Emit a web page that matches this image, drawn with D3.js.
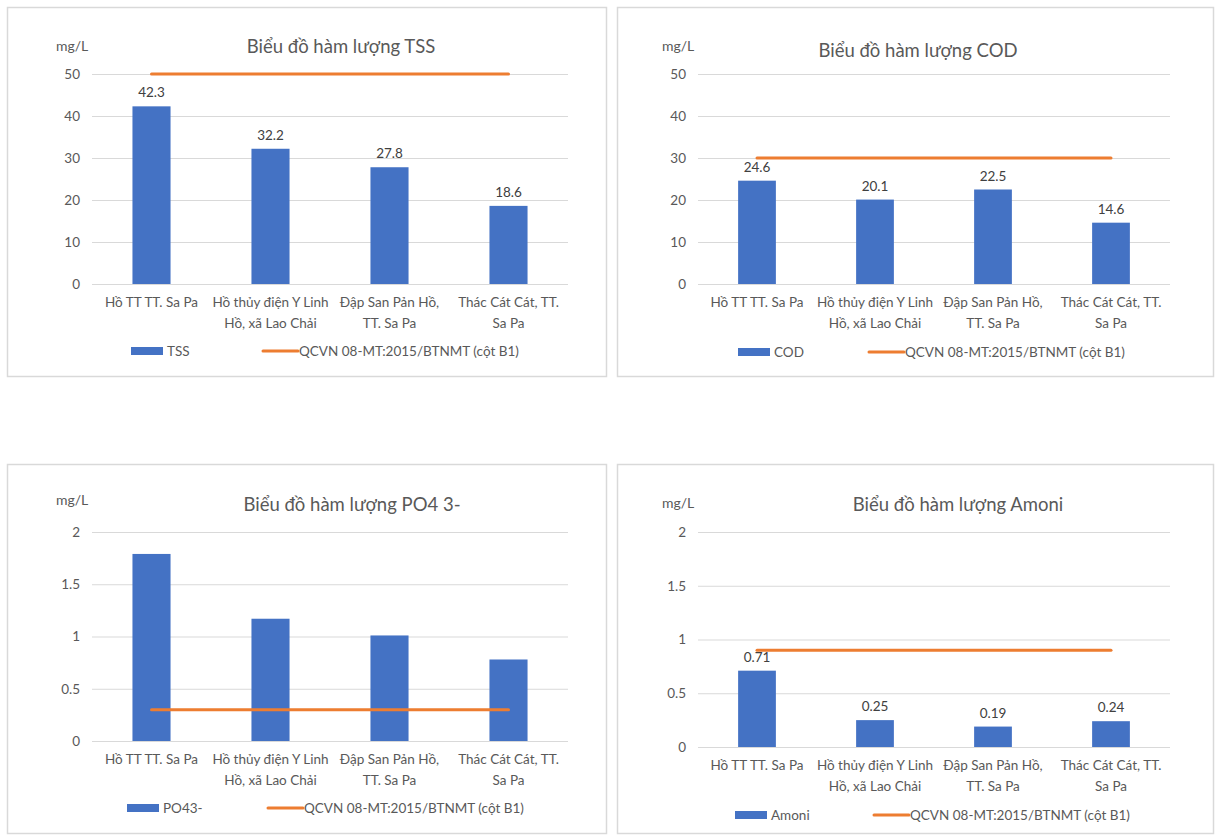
<!DOCTYPE html>
<html>
<head>
<meta charset="utf-8">
<script src="https://cdn.jsdelivr.net/npm/d3@7"></script>
<style>
  body { margin: 0; background: #fff; }
  text { font-family: Lato, "Open Sans", sans-serif; }
</style>
</head>
<body>
<div id="chart-area"></div>
<script>
// Data
var categories = ["Hồ TT TT. Sa Pa", "Hồ thủy điện Y Linh Hồ, xã Lao Chải", "Đập San Pản Hồ, TT. Sa Pa", "Thác Cát Cát, TT. Sa Pa"];
var categoryLines = [["Hồ TT TT. Sa Pa"], ["Hồ thủy điện Y Linh", "Hồ, xã Lao Chải"], ["Đập San Pản Hồ,", "TT. Sa Pa"], ["Thác Cát Cát, TT.", "Sa Pa"]];

var tssValues = [42.3, 32.2, 27.8, 18.6];
var codValues = [24.6, 20.1, 22.5, 14.6];
var po4Values = [1.79, 1.17, 1.01, 0.78];
var amoniValues = [0.71, 0.25, 0.19, 0.24];

var tssLimit = [50, 50, 50, 50];
var codLimit = [30, 30, 30, 30];
var po4Limit = [0.3, 0.3, 0.3, 0.3];
var amoniLimit = [0.9, 0.9, 0.9, 0.9];

var ticks50 = [0, 10, 20, 30, 40, 50];
var ticks2 = [0, 0.5, 1, 1.5, 2];

var titles = ["Biểu đồ hàm lượng TSS", "Biểu đồ hàm lượng COD", "Biểu đồ hàm lượng PO4 3-", "Biểu đồ hàm lượng Amoni"];
var seriesNames = ["TSS", "COD", "PO43-", "Amoni"];
var limitName = "QCVN 08-MT:2015/BTNMT (cột B1)";
var unit = "mg/L";

// Layout (page coordinates)
var panels = [
  {values: tssValues, limit: tssLimit, ticks: ticks50, labels: true,
   box: [7, 7, 606, 376], plot: [92, 568, 74, 284], titleX: 341, titleY: 47, unitY: 46, legY: 351, legRect: 131, legLine: 263},
  {values: codValues, limit: codLimit, ticks: ticks50, labels: true,
   box: [617, 7, 1213, 376], plot: [698, 1170, 74, 284], titleX: 918, titleY: 51, unitY: 46, legY: 352, legRect: 738, legLine: 869},
  {values: po4Values, limit: po4Limit, ticks: ticks2, labels: false,
   box: [7, 464, 606, 833], plot: [92, 568, 532, 741], titleX: 352, titleY: 505, unitY: 500, legY: 808, legRect: 127, legLine: 268},
  {values: amoniValues, limit: amoniLimit, ticks: ticks2, labels: true,
   box: [617, 464, 1213, 833], plot: [698, 1170, 532, 747], titleX: 958, titleY: 505, unitY: 503, legY: 815, legRect: 735, legLine: 874}
];

var blue = "#4472C4", orange = "#ED7D31", grey = "#595959";
var fs = "13.5px";

var svg = d3.select("#chart-area").append("svg").attr("width", 1215).attr("height", 837);
svg.append("rect").attr("width", 1215).attr("height", 837).attr("fill", "#fff");

panels.forEach(function(p, i) {
  var g = svg.append("g");

  g.append("rect").attr("x", p.box[0] + 0.5).attr("y", p.box[1] + 0.5)
    .attr("width", p.box[2] - p.box[0]).attr("height", p.box[3] - p.box[1])
    .attr("fill", "#fff").attr("stroke", "#d9d9d9").attr("stroke-width", 1.5);

  // Scales
  var x = d3.scaleBand().domain(categories).range([p.plot[0], p.plot[1]]).padding(0);
  var y = d3.scaleLinear().domain([0, d3.max(p.ticks)]).range([p.plot[3], p.plot[2]]);
  var barW = x.bandwidth() * 0.32;

  // Grid + y axis
  var yAxis = d3.axisLeft(y).tickValues(p.ticks).tickSize(-(p.plot[1] - p.plot[0])).tickPadding(12).tickFormat(d3.format("~g"));
  var yg = g.append("g").attr("transform", "translate(" + p.plot[0] + ",0)").call(yAxis);
  yg.select(".domain").remove();
  yg.selectAll("line").attr("stroke", "#d9d9d9").attr("stroke-width", 1);
  yg.selectAll("text").attr("fill", grey).attr("font-size", fs).style("font-family", "Lato");

  // Bars
  g.selectAll(".bar").data(p.values).enter().append("rect")
    .attr("x", function(d, j) { return x(categories[j]) + (x.bandwidth() - barW) / 2; })
    .attr("y", function(d) { return y(d); })
    .attr("width", barW)
    .attr("height", function(d) { return y(0) - y(d); })
    .attr("fill", blue);

  if (p.labels) {
    g.selectAll(".lbl").data(p.values).enter().append("text")
      .attr("x", function(d, j) { return x(categories[j]) + x.bandwidth() / 2; })
      .attr("y", function(d) { return y(d) - 9; })
      .attr("text-anchor", "middle").attr("font-size", fs).attr("fill", "#404040")
      .text(function(d) { return d; });
  }

  // Limit line
  var line = d3.line()
    .x(function(d, j) { return x(categories[j]) + x.bandwidth() / 2; })
    .y(function(d) { return y(d); });
  g.append("path").datum(p.limit).attr("d", line)
    .attr("fill", "none").attr("stroke", orange).attr("stroke-width", 3).attr("stroke-linecap", "round");

  // Category labels
  categories.forEach(function(c, j) {
    var t = g.append("text").attr("text-anchor", "middle").attr("font-size", fs).attr("fill", grey);
    categoryLines[j].forEach(function(s, k) {
      t.append("tspan").attr("x", x(c) + x.bandwidth() / 2).attr("y", p.plot[3] + 23 + k * 21).text(s);
    });
  });

  // Unit + title
  g.append("text").attr("x", p.plot[0] - 36).attr("y", p.unitY + 5).attr("font-size", "14px").attr("fill", grey).text(unit);
  g.append("text").attr("x", p.titleX).attr("y", p.titleY + 6).attr("text-anchor", "middle")
    .attr("font-size", "18.5px").attr("fill", grey).text(titles[i]);

  // Legend
  g.append("rect").attr("x", p.legRect).attr("y", p.legY - 4).attr("width", 32).attr("height", 8).attr("fill", blue);
  g.append("text").attr("x", p.legRect + 36).attr("y", p.legY + 5).attr("font-size", fs).attr("fill", grey).text(seriesNames[i]);
  g.append("line").attr("x1", p.legLine).attr("x2", p.legLine + 35).attr("y1", p.legY).attr("y2", p.legY)
    .attr("stroke", orange).attr("stroke-width", 3).attr("stroke-linecap", "round");
  g.append("text").attr("x", p.legLine + 36).attr("y", p.legY + 5).attr("font-size", fs).attr("fill", grey).text(limitName);
});
</script>
</body>
</html>
